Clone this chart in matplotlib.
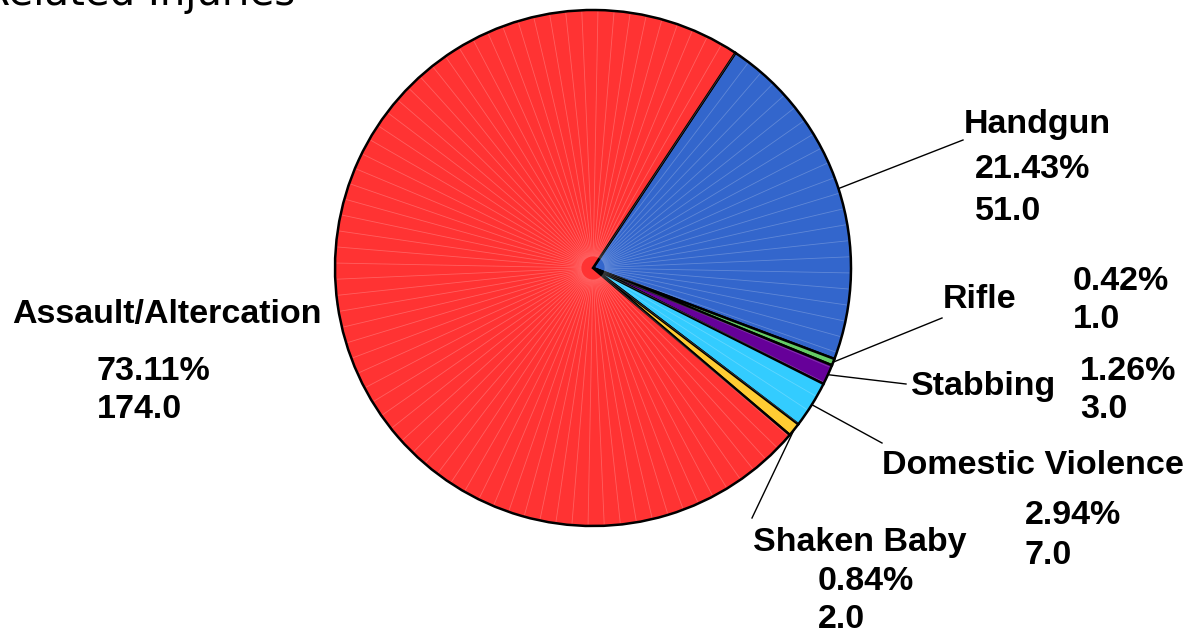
import numpy as np
import matplotlib.pyplot as plt

# data
labels = ["Handgun", "Rifle", "Stabbing", "Domestic Violence", "Shaken Baby", "Assault/Altercation"]
counts = [51.0, 1.0, 3.0, 7.0, 2.0, 174.0]
colors = ["#3366CC", "#66CC66", "#660099", "#33CCFF", "#FFCC33", "#FF3333"]
title = "Violence Related Injuries"

# layout, in pixels from the top-left corner
W, H = 1190, 639
center = (593, 268)
radius = 258
# (name x, name y), (value x, pct y, count y)
name_pos = [(1037, 125), (980, 300), (984, 386), (1033, 466), (860, 543), (167, 314)]
val_pos = [(975, 170, 212), (1073, 281, 320), (1080, 372, 410),
           (1025, 516, 556), (818, 582, 620), (97, 372, 410)]
line_end = [(963, 140), (942, 318), (906, 384), (882, 443), (752, 518), (338, 308)]

fig = plt.figure(figsize=(W / 100, H / 100), dpi=100)
ax = fig.add_axes([0, 0, 1, 1])

def py(y):
    return H - y

cy = py(center[1])
wedges, _ = ax.pie(counts, colors=colors, startangle=56.5, counterclock=False,
                   center=(center[0], cy), radius=radius,
                   wedgeprops=dict(edgecolor="black", linewidth=1.8))

# faint radial streaks like the original rendering
for a in np.arange(56.5, 56.5 - 360, -3.6):
    t = np.deg2rad(a)
    ax.plot([center[0] + 12 * np.cos(t), center[0] + (radius - 2) * np.cos(t)],
            [cy + 12 * np.sin(t), cy + (radius - 2) * np.sin(t)],
            color="white", lw=0.6, alpha=0.22, zorder=1.5)
for w in wedges:
    w.set_zorder(1)

ax.set_xlim(0, W)
ax.set_ylim(0, H)
ax.set_aspect("equal")
ax.axis("off")

total = sum(counts)
fnt = dict(family="Liberation Sans", fontweight="bold", fontsize=24.5, color="black")
for i, w in enumerate(wedges):
    mid = np.deg2rad((w.theta1 + w.theta2) / 2)
    x0 = center[0] + radius * np.cos(mid)
    y0 = cy + radius * np.sin(mid)
    ex, ey = line_end[i]
    ax.plot([x0, ex], [y0, py(ey)], color="black", lw=1, zorder=3)
    nx, ny = name_pos[i]
    ax.text(nx, py(ny), labels[i], ha="center", va="center", **fnt)
    vx, vy1, vy2 = val_pos[i]
    ax.text(vx, py(vy1), "%.2f%%" % (counts[i] / total * 100), ha="left", va="center", **fnt)
    ax.text(vx, py(vy2), "%.1f" % counts[i], ha="left", va="center", **fnt)

fig.text(295 / W, 1 - 5 / H, title, ha="right", va="baseline",
         fontsize=29, family="DejaVu Sans", color="black")

fig.savefig("out.png", dpi=100, facecolor="white")
